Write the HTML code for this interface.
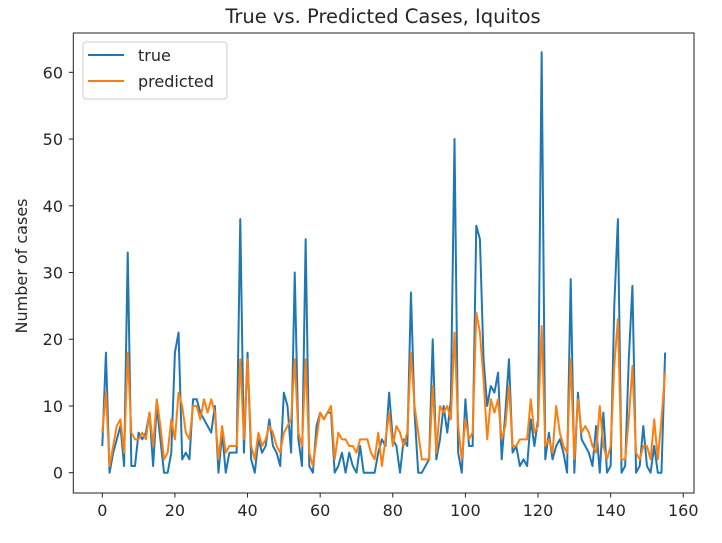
<!DOCTYPE html>
<html><head><meta charset="utf-8"><style>
body{margin:0;background:#fff;}
svg text{font-family:"DejaVu Sans","Liberation Sans",sans-serif;fill:#262626;}
</style></head><body>
<svg id="chart" width="722" height="538" xmlns="http://www.w3.org/2000/svg">
<text x="383" y="23" font-size="19.5" text-anchor="middle">True vs. Predicted Cases, Iquitos</text>
<text transform="translate(27,266) rotate(-90)" font-size="16" text-anchor="middle">Number of cases</text>
<g id="axes"></g>
<g id="series"></g>
<rect x="73.3" y="33" width="620.7" height="460" fill="none" stroke="#222" stroke-width="1"/>
<g>
<rect x="83" y="42" width="144" height="57" rx="3" fill="#fff" fill-opacity="0.8" stroke="#ccc"/>
<line x1="88" y1="55" x2="124" y2="55" stroke="#1f77b4" stroke-width="2"/>
<text x="138" y="61" font-size="16">true</text>
<line x1="88" y1="81" x2="124" y2="81" stroke="#ff7f0e" stroke-width="2"/>
<text x="138" y="87" font-size="16">predicted</text>
</g>
</svg>
<script>
const trueCases=[4,18,0,3,5,7,1,33,1,1,6,5,6,9,1,10,5,0,0,3,18,21,2,3,2,11,11,9,8,7,6,10,0,6,0,3,3,3,38,3,18,2,0,5,3,4,8,4,3,1,12,10,3,30,5,1,35,1,0,7,9,8,9,9,0,1,3,0,3,1,0,4,0,0,0,0,3,5,4,12,5,4,0,5,4,27,9,0,0,1,2,20,2,5,10,6,11,50,3,0,11,4,4,37,35,17,10,13,12,15,2,9,17,3,4,1,2,1,8,4,8,63,2,6,2,4,5,3,0,29,0,12,5,4,3,1,7,0,9,0,1,25,38,0,1,17,28,0,1,7,1,0,4,0,0,18];
const predictedCases=[6,12,1,4,7,8,3,18,6,5,5,6,5,9,4,11,7,2,3,8,5,12,10,6,5,10,10,8,11,9,11,9,2,7,3,4,4,4,17,5,17,4,2,6,4,5,7,6,4,3,6,7,8,17,6,4,17,3,1,5,9,8,9,10,2,6,5,5,4,4,3,5,5,5,3,2,6,1,5,9,4,7,6,4,6,18,10,6,2,2,2,13,3,10,9,10,8,21,7,2,8,5,6,24,21,14,5,11,9,11,5,7,13,4,4,5,5,5,11,6,7,22,4,5,3,10,6,4,3,17,2,11,6,7,6,4,3,10,4,2,4,16,23,2,2,8,16,3,2,4,4,2,8,2,8,15];
const xTicks=[0,20,40,60,80,100,120,140,160];
const yTicks=[0,10,20,30,40,50,60];
const NS="http://www.w3.org/2000/svg";
const xs=v=>102.3+v*3.631;
const ys=v=>472.7-v*6.673;
const axes=document.getElementById('axes');
function mk(tag,attrs,parent){const e=document.createElementNS(NS,tag);for(const k in attrs)e.setAttribute(k,attrs[k]);parent.appendChild(e);return e;}
xTicks.forEach(t=>{
  const l=mk('line',{x1:xs(t),x2:xs(t),y1:493,y2:497.5,stroke:'#222'},axes);
  
  
  const tx=mk('text',{x:xs(t),y:516,'font-size':16,'text-anchor':'middle'},axes);
  tx.textContent=t;
  
  
});
yTicks.forEach(t=>{
  const l=mk('line',{x1:68.8,x2:73.3,y1:ys(t),y2:ys(t),stroke:'#222'},axes);
  
  
  const tx=mk('text',{x:63,y:ys(t)+6,'font-size':16,'text-anchor':'end'},axes);
  tx.textContent=t;
  
  
});
const series=document.getElementById('series');
function line(data,color,name){
  const d=data.map((v,i)=>(i?'L':'M')+xs(i).toFixed(2)+','+ys(v).toFixed(2)).join('');
  const p=mk('path',{d:d,fill:'none',stroke:color,'stroke-width':2,'stroke-linejoin':'round'},series);
  
  
}
line(trueCases,'#1f77b4','true-line');
line(predictedCases,'#ff7f0e','predicted-line');
</script>
</body></html>
